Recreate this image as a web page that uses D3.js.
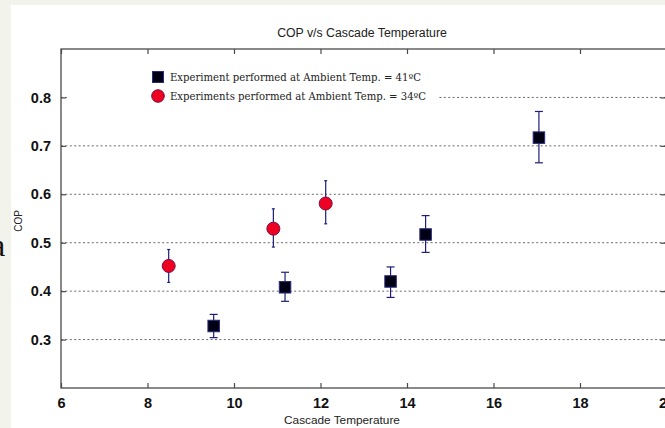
<!DOCTYPE html>
<html>
<head>
<meta charset="utf-8">
<script src="https://cdn.jsdelivr.net/npm/d3@7"></script>
<style>
  html, body { margin: 0; padding: 0; background: #f2f4ec; }
  svg { display: block; }
</style>
</head>
<body>
<svg id="chart" width="665" height="428"></svg>
<script>
// COP measurements, ambient 41 °C (squares)
const hotTemp  = [9.53, 11.18, 13.62, 14.43, 17.05];
const hotCop   = [0.328, 0.408, 0.420, 0.517, 0.717];
const hotLow   = [0.304, 0.379, 0.387, 0.480, 0.665];
const hotHigh  = [0.352, 0.439, 0.450, 0.556, 0.771];

// COP measurements, ambient 34 °C (circles)
const coolTemp = [8.49, 10.91, 12.12];
const coolCop  = [0.452, 0.529, 0.581];
const coolLow  = [0.418, 0.491, 0.539];
const coolHigh = [0.486, 0.570, 0.628];

const xTicks = [6, 8, 10, 12, 14, 16, 18, 20];
const yTicks = [0.3, 0.4, 0.5, 0.6, 0.7, 0.8];
const legendLabels = [
  "Experiment performed at Ambient Temp. = 41\u00BAC",
  "Experiments performed at Ambient Temp. = 34\u00BAC"
];

const svg = d3.select("#chart");

// white figure area
svg.append("rect").attr("x", 11).attr("y", 5).attr("width", 660).attr("height", 430).attr("fill", "#ffffff");

// stray glyph from surrounding page text
svg.append("text").attr("x", -9).attr("y", 256)
  .attr("font-family", "Liberation Serif, serif").attr("font-size", 32).attr("fill", "#111").text("a");

const plotLeft = 61, plotRight = 666.5, plotTop = 49, plotBottom = 388;
const x = d3.scaleLinear().domain([6, 20]).range([plotLeft, plotRight]);
const y = d3.scaleLinear().domain([0.2, 0.9]).range([plotBottom, plotTop]);

const axisColor = "#4a4a4a";

// dotted grid lines
svg.append("g").selectAll("line").data(yTicks).join("line")
  .attr("x1", plotLeft).attr("x2", plotRight)
  .attr("y1", d => y(d)).attr("y2", d => y(d))
  .attr("stroke", "#6a6a6a").attr("stroke-width", 1).attr("stroke-dasharray", "2,2.4");

// axes with inward ticks
const fontTick = "Liberation Sans, Arial, sans-serif";
const gxB = svg.append("g").attr("transform", `translate(0,${plotBottom})`)
  .call(d3.axisBottom(x).tickValues(xTicks).tickSize(-5).tickPadding(10).tickFormat(d3.format("d")));
const gxT = svg.append("g").attr("transform", `translate(0,${plotTop})`)
  .call(d3.axisTop(x).tickValues(xTicks).tickSize(-5).tickFormat(""));
const gyL = svg.append("g").attr("transform", `translate(${plotLeft},0)`)
  .call(d3.axisLeft(y).tickValues(yTicks).tickSize(-5).tickPadding(10).tickFormat(d3.format(".1f")));
const gyR = svg.append("g").attr("transform", `translate(${plotRight},0)`)
  .call(d3.axisRight(y).tickValues(yTicks).tickSize(-6).tickFormat(""));

[gxB, gxT, gyL, gyR].forEach(g => {
  g.select(".domain").remove();
  g.selectAll(".tick line").attr("stroke", axisColor).attr("stroke-width", 1.2);
  g.selectAll("text").attr("font-family", fontTick).attr("font-weight", "bold")
    .attr("font-size", 14.5).attr("fill", "#111");
});

// frame
svg.append("rect").attr("x", plotLeft).attr("y", plotTop)
  .attr("width", plotRight - plotLeft).attr("height", plotBottom - plotTop)
  .attr("fill", "none").attr("stroke", axisColor).attr("stroke-width", 1.3);

// legend (opaque box covering grid)
const lg = svg.append("g");
lg.append("rect").attr("x", 67).attr("y", 60).attr("width", 372).attr("height", 48).attr("fill", "#ffffff");
lg.append("rect").attr("x", 152.5).attr("y", 71.5).attr("width", 11).attr("height", 11)
  .attr("fill", "#000014").attr("stroke", "#2a2a80").attr("stroke-width", 1);
lg.append("circle").attr("cx", 158).attr("cy", 96).attr("r", 6.3)
  .attr("fill", "#ee0022").attr("stroke", "#7a1040").attr("stroke-width", 1);
lg.selectAll("text").data(legendLabels).join("text")
  .attr("x", 170).attr("y", (d, i) => 81 + i * 19)
  .attr("font-family", "DejaVu Serif, serif").attr("font-size", 10.1).attr("fill", "#222")
  .text(d => d);

// error bars
const errColor = "#1e1e78";
function errorBars(xs, lo, hi, cap) {
  const g = svg.append("g").attr("stroke", errColor).attr("stroke-width", 1.2);
  g.selectAll("line.v").data(xs).join("line").attr("class", "v")
    .attr("x1", d => x(d)).attr("x2", d => x(d))
    .attr("y1", (d, i) => y(lo[i])).attr("y2", (d, i) => y(hi[i]));
  g.selectAll("line.t").data(xs).join("line").attr("class", "t")
    .attr("x1", d => x(d) - cap).attr("x2", d => x(d) + cap)
    .attr("y1", (d, i) => y(hi[i])).attr("y2", (d, i) => y(hi[i]));
  g.selectAll("line.b").data(xs).join("line").attr("class", "b")
    .attr("x1", d => x(d) - cap).attr("x2", d => x(d) + cap)
    .attr("y1", (d, i) => y(lo[i])).attr("y2", (d, i) => y(lo[i]));
}
errorBars(hotTemp, hotLow, hotHigh, 4);
errorBars(coolTemp, coolLow, coolHigh, 1.5);

// markers
const sq = 11.5;
svg.append("g").selectAll("rect").data(hotTemp).join("rect")
  .attr("x", d => x(d) - sq / 2).attr("y", (d, i) => y(hotCop[i]) - sq / 2)
  .attr("width", sq).attr("height", sq)
  .attr("fill", "#000014").attr("stroke", "#2a2a80").attr("stroke-width", 1);
svg.append("g").selectAll("circle").data(coolTemp).join("circle")
  .attr("cx", d => x(d)).attr("cy", (d, i) => y(coolCop[i])).attr("r", 6.5)
  .attr("fill", "#ee0022").attr("stroke", "#7a1040").attr("stroke-width", 1);

// titles
const fontLabel = "Liberation Sans, Arial, sans-serif";
svg.append("text").attr("x", 362).attr("y", 37).attr("text-anchor", "middle")
  .attr("font-family", fontLabel).attr("font-size", 12.3).attr("fill", "#222")
  .text("COP v/s Cascade Temperature");
svg.append("text").attr("x", 342).attr("y", 424).attr("text-anchor", "middle")
  .attr("font-family", fontLabel).attr("font-size", 11.8).attr("fill", "#222")
  .text("Cascade Temperature");
svg.append("text").attr("transform", "translate(22,221) rotate(-90)").attr("text-anchor", "middle")
  .attr("font-family", fontLabel).attr("font-size", 10).attr("fill", "#222")
  .text("COP");
</script>
</body>
</html>
